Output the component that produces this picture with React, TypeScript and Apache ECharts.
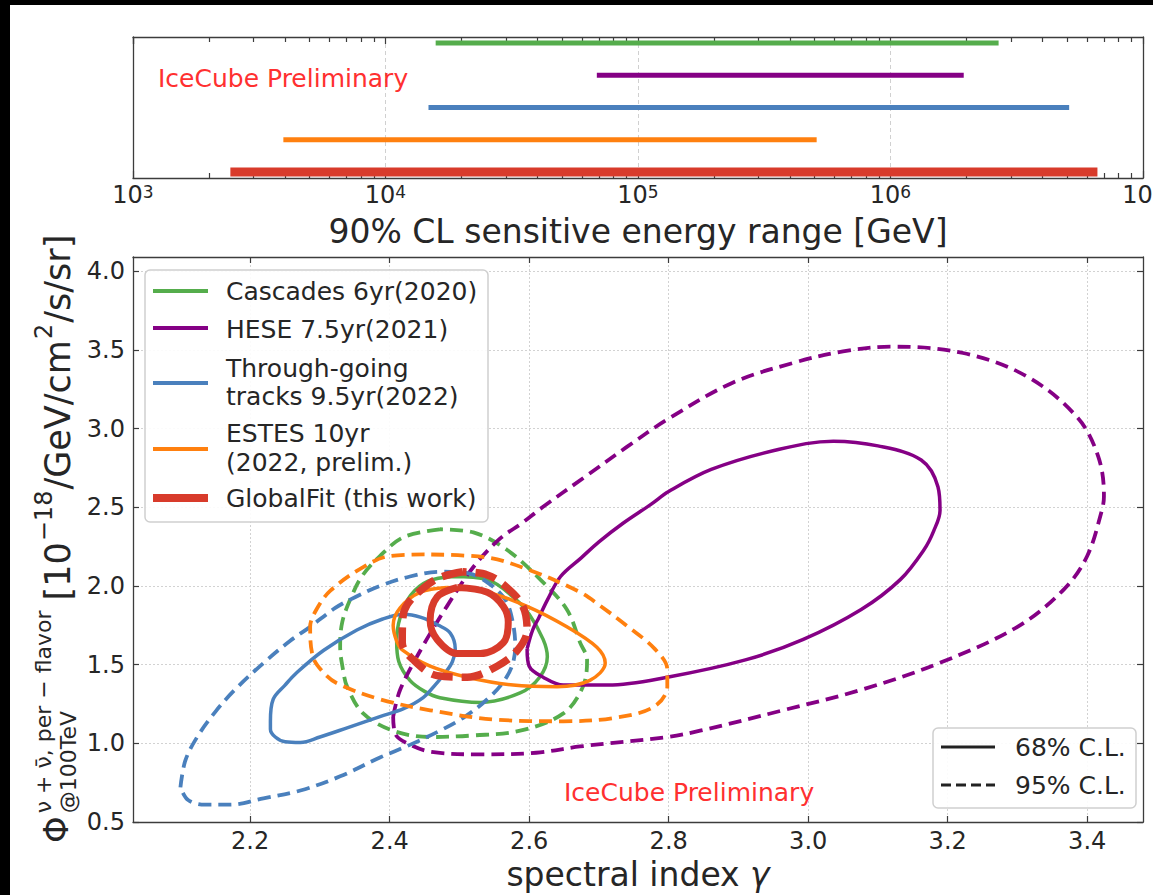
import React, { useEffect, useRef } from 'react';
import * as echarts from 'echarts';

const FONT = '"DejaVu Sans", "Noto Sans", sans-serif';
const TEXT = '#262626';
const AXIS = '#3c3c3c';

const GREEN = '#55ad4c';
const PURPLE = '#850085';
const BLUE = '#4a80bd';
const ORANGE = '#ff800f';
const RED = '#d83b2b';

// ---------- top panel: 90% CL sensitive energy ranges [GeV] ----------
const rangeNames = ['GlobalFit', 'ESTES', 'Tracks', 'HESE', 'Cascades'];
const rangeRows = [0, 1, 2, 3, 4];
const rangeLow = [2430, 3940, 14800, 68700, 15800];
const rangeHigh = [6600000, 510000, 5100000, 1950000, 2680000];
const rangeColors = [RED, ORANGE, BLUE, PURPLE, GREEN];
const rangeWidths = [9, 5, 5, 5, 5];
const energyMinorMultipliers = [2, 3, 4, 5, 6, 7, 8, 9];
const energyDecades = [3, 4, 5, 6];

// ---------- bottom panel: contours (spectral index, flux) ----------
const gammaTicks = [2.2, 2.4, 2.6, 2.8, 3.0, 3.2, 3.4];
const fluxTicks = [0.5, 1.0, 1.5, 2.0, 2.5, 3.0, 3.5, 4.0];

const cascades95 = [
  [2.472, 2.36], [2.420, 2.31], [2.386, 2.19], [2.360, 2.06], [2.345, 1.93], [2.332, 1.77],
  [2.329, 1.61], [2.333, 1.47], [2.339, 1.36], [2.362, 1.19], [2.405, 1.08], [2.458, 1.04],
  [2.520, 1.05], [2.587, 1.08], [2.649, 1.19], [2.677, 1.36], [2.683, 1.53], [2.673, 1.64],
  [2.654, 1.85], [2.616, 2.04], [2.568, 2.23], [2.520, 2.34], [2.472, 2.36],
];
const cascades68 = [
  [2.491, 2.06], [2.455, 2.03], [2.430, 1.94], [2.415, 1.80], [2.410, 1.65], [2.413, 1.52],
  [2.429, 1.40], [2.450, 1.33], [2.472, 1.29], [2.530, 1.26], [2.587, 1.32], [2.615, 1.42],
  [2.626, 1.55], [2.620, 1.66], [2.600, 1.82], [2.577, 1.93], [2.540, 2.04], [2.491, 2.06],
];
const hese68 = [
  [2.597, 1.60], [2.605, 1.72], [2.614, 1.80], [2.626, 1.91], [2.645, 2.06], [2.675, 2.18],
  [2.700, 2.28], [2.735, 2.40], [2.775, 2.52], [2.800, 2.60], [2.861, 2.74], [2.951, 2.86],
  [3.036, 2.92], [3.100, 2.89], [3.162, 2.80], [3.186, 2.63], [3.189, 2.48], [3.180, 2.35],
  [3.166, 2.23], [3.132, 2.04], [3.076, 1.85], [2.993, 1.66], [2.910, 1.53], [2.798, 1.42],
  [2.713, 1.37], [2.649, 1.37], [2.620, 1.42], [2.600, 1.49], [2.597, 1.60],
];
const hese95 = [
  [2.405, 1.17], [2.415, 1.34], [2.444, 1.59], [2.482, 1.87], [2.520, 2.12], [2.558, 2.30],
  [2.590, 2.40], [2.619, 2.50], [2.679, 2.69], [2.739, 2.88], [2.799, 3.06], [2.891, 3.29],
  [2.981, 3.42], [3.050, 3.49], [3.120, 3.52], [3.222, 3.48], [3.314, 3.33], [3.386, 3.07],
  [3.416, 2.82], [3.424, 2.57], [3.421, 2.48], [3.400, 2.19], [3.367, 1.98], [3.300, 1.74],
  [3.188, 1.51], [3.076, 1.34], [2.964, 1.21], [2.845, 1.08], [2.798, 1.04], [2.673, 0.98],
  [2.610, 0.94], [2.530, 0.93], [2.460, 0.945], [2.425, 1.00], [2.408, 1.06], [2.405, 1.17],
];
const tracks68 = [
  [2.229, 1.14], [2.233, 1.28], [2.250, 1.37], [2.267, 1.45], [2.305, 1.59], [2.353, 1.72],
  [2.390, 1.79], [2.420, 1.82], [2.445, 1.80], [2.470, 1.75], [2.487, 1.70], [2.494, 1.60],
  [2.490, 1.52], [2.480, 1.45], [2.465, 1.37], [2.448, 1.29], [2.420, 1.22], [2.386, 1.17],
  [2.340, 1.10], [2.300, 1.04], [2.272, 1.005], [2.250, 1.01], [2.236, 1.04], [2.229, 1.09],
  [2.229, 1.14],
];
const tracks95 = [
  [2.100, 0.72], [2.107, 0.89], [2.124, 1.04], [2.150, 1.20], [2.178, 1.34], [2.219, 1.51],
  [2.257, 1.65], [2.286, 1.74], [2.322, 1.86], [2.351, 1.93], [2.386, 2.00], [2.429, 2.06],
  [2.472, 2.09], [2.513, 2.08], [2.544, 2.01], [2.566, 1.91], [2.576, 1.78], [2.580, 1.62],
  [2.576, 1.50], [2.563, 1.39], [2.540, 1.28], [2.508, 1.17], [2.472, 1.08], [2.429, 0.99],
  [2.386, 0.91], [2.329, 0.79], [2.272, 0.70], [2.219, 0.65], [2.171, 0.61], [2.135, 0.61],
  [2.111, 0.64], [2.100, 0.72],
];
const estes68 = [
  [2.482, 1.99], [2.444, 1.96], [2.415, 1.86], [2.405, 1.75], [2.410, 1.65], [2.419, 1.59],
  [2.458, 1.49], [2.511, 1.42], [2.577, 1.37], [2.640, 1.36], [2.687, 1.40], [2.709, 1.51],
  [2.697, 1.61], [2.654, 1.74], [2.597, 1.87], [2.540, 1.96], [2.482, 1.99],
];
const estes95 = [
  [2.450, 2.20], [2.400, 2.19], [2.362, 2.12], [2.315, 1.97], [2.295, 1.85], [2.286, 1.74],
  [2.290, 1.55], [2.305, 1.45], [2.325, 1.38], [2.386, 1.28], [2.458, 1.21], [2.554, 1.15],
  [2.649, 1.14], [2.720, 1.16], [2.778, 1.23], [2.798, 1.36], [2.798, 1.47], [2.780, 1.60],
  [2.742, 1.74], [2.700, 1.88], [2.673, 1.96], [2.601, 2.10], [2.540, 2.18], [2.450, 2.20],
];
const global68 = [
  [2.497, 1.99], [2.468, 1.93], [2.458, 1.78], [2.468, 1.66], [2.497, 1.57], [2.530, 1.57],
  [2.563, 1.64], [2.570, 1.77], [2.563, 1.87], [2.540, 1.96], [2.497, 1.99],
];
const global95 = [
  [2.505, 2.09], [2.470, 2.05], [2.444, 1.97], [2.425, 1.88], [2.419, 1.80], [2.418, 1.64],
  [2.434, 1.53], [2.468, 1.43], [2.511, 1.42], [2.554, 1.49], [2.583, 1.59], [2.597, 1.72],
  [2.591, 1.87], [2.568, 1.99], [2.540, 2.07], [2.505, 2.09],
];

const legendLabels = [
  ['Cascades 6yr(2020)'],
  ['HESE 7.5yr(2021)'],
  ['Through-going', 'tracks 9.5yr(2022)'],
  ['ESTES 10yr', '(2022, prelim.)'],
  ['GlobalFit (this work)'],
];
const legendColors = [GREEN, PURPLE, BLUE, ORANGE, RED];
const clLabels = ['68% C.L.', '95% C.L.'];

let measureCtx: CanvasRenderingContext2D | null = null;
function measure(t: string, size: number): number {
  if (!measureCtx) measureCtx = document.createElement('canvas').getContext('2d');
  if (!measureCtx) return t.length * size * 0.6;
  measureCtx.font = `${size}px "DejaVu Sans"`;
  return measureCtx.measureText(t).width;
}

function txt(t: string, x: number, y: number, size: number, fill = TEXT, align = 'left', extraStyle: any = {}) {
  return {
    type: 'text', x, y, z: 100,
    style: {
      text: t, fontSize: size, fontFamily: FONT, fill,
      align, verticalAlign: 'middle', textAlign: align, textVerticalAlign: 'middle',
      ...extraStyle,
    },
  };
}

function yTitle() {
  const F = 35, S = 22, SS = 24;
  const kids: any[] = [];
  const add = (t: string, size: number, x: number, y: number) => kids.push(txt(t, x, y, size));
  let p = 0;
  add('Φ', 34, p, -2);
  p += measure('Φ', 34) + 3;
  const sup = 'ν + ν\u0304, per − flavor';
  const sub = '@100TeV';
  add(sup, S, p, -15);
  add(sub, S, p, 10);
  p += Math.max(measure(sup, S), measure(sub, S)) + 10;
  add('[10', F, p, 0); p += measure('[10', F) + 1;
  add('−18', SS, p, -14); p += measure('−18', SS) + 1;
  add('/GeV/cm', F, p, 0); p += measure('/GeV/cm', F) + 1;
  add('2', SS, p, -14); p += measure('2', SS) + 1;
  add('/s/sr]', F, p, 0);
  return { type: 'group', x: 58, y: 843, rotation: Math.PI / 2, children: kids };
}

function buildOption(): any {
  const minorLog: number[] = [];
  energyDecades.forEach((d) => energyMinorMultipliers.forEach((m) => minorLog.push(Math.log10(m * Math.pow(10, d)))));

  const line = { show: true, onZero: false, lineStyle: { color: AXIS, width: 1.3 } };
  const noLine = { show: false, onZero: false };
  const tick = (len: number, custom?: number[]) => ({
    show: true, inside: true, length: len, lineStyle: { color: AXIS, width: 1.2 },
    ...(custom ? { customValues: custom } : {}),
  });
  const noLabel = { show: false };
  const noSplit = { show: false };
  const grid = { color: '#d2d2d2', width: 1, type: [2, 2] };

  const xAxis = [
    {
      gridIndex: 0, type: 'log', logBase: 10, min: 1e3, max: 1e7, position: 'bottom',
      axisLine: line, axisTick: tick(7),
      axisLabel: {
        show: true, margin: 5,
        formatter: (v: number) => `{b|10}{e|${Math.round(Math.log10(v))}}`,
        rich: {
          b: { fontSize: 24, fontFamily: FONT, color: TEXT },
          e: { fontSize: 17, fontFamily: FONT, color: TEXT, verticalAlign: 'top' },
        },
      },
      splitLine: { show: true, lineStyle: { color: '#d0d0d0', width: 1, type: [4, 3] } },
    },
    {
      gridIndex: 0, type: 'log', logBase: 10, min: 1e3, max: 1e7, position: 'top',
      axisLine: line, axisTick: tick(7), axisLabel: noLabel, splitLine: noSplit,
    },
    {
      gridIndex: 0, type: 'value', min: 3, max: 7, position: 'bottom',
      axisLine: noLine, axisTick: tick(5, minorLog), axisLabel: noLabel, splitLine: noSplit,
    },
    {
      gridIndex: 0, type: 'value', min: 3, max: 7, position: 'top',
      axisLine: noLine, axisTick: tick(5, minorLog), axisLabel: noLabel, splitLine: noSplit,
    },
    {
      gridIndex: 1, type: 'value', min: 2.032, max: 3.48, position: 'bottom',
      axisLine: line, axisTick: tick(6, gammaTicks),
      axisLabel: {
        show: true, margin: 7, customValues: gammaTicks, fontSize: 24, fontFamily: FONT, color: TEXT,
        formatter: (v: number) => v.toFixed(1),
      },
      splitLine: { show: true, lineStyle: grid },
    },
    {
      gridIndex: 1, type: 'value', min: 2.032, max: 3.48, position: 'top',
      axisLine: line, axisTick: tick(6, gammaTicks), axisLabel: noLabel, splitLine: noSplit,
    },
  ];

  const yAxis = [
    {
      gridIndex: 0, type: 'value', min: -0.186, max: 4.186, position: 'left',
      axisLine: line, axisTick: { show: false }, axisLabel: noLabel, splitLine: noSplit,
    },
    {
      gridIndex: 0, type: 'value', min: -0.186, max: 4.186, position: 'right',
      axisLine: line, axisTick: { show: false }, axisLabel: noLabel, splitLine: noSplit,
    },
    {
      gridIndex: 1, type: 'value', min: 0.5, max: 4.09, position: 'left',
      axisLine: line, axisTick: tick(6, fluxTicks),
      axisLabel: {
        show: true, margin: 8, customValues: fluxTicks, fontSize: 24, fontFamily: FONT, color: TEXT,
        formatter: (v: number) => v.toFixed(1),
      },
      splitLine: { show: true, lineStyle: grid },
    },
    {
      gridIndex: 1, type: 'value', min: 0.5, max: 4.09, position: 'right',
      axisLine: line, axisTick: tick(6, fluxTicks), axisLabel: noLabel, splitLine: noSplit,
    },
  ];

  const series: any[] = [];
  rangeRows.forEach((row, i) => {
    series.push({
      name: rangeNames[i], type: 'line', xAxisIndex: 0, yAxisIndex: 0,
      data: [[rangeLow[i], row], [rangeHigh[i], row]],
      symbol: 'none', silent: true,
      lineStyle: { color: rangeColors[i], width: rangeWidths[i], cap: 'butt' },
    });
  });

  const contours = [
    { d: cascades95, c: GREEN, w: 3.8, dash: true },
    { d: cascades68, c: GREEN, w: 3.5, dash: false },
    { d: hese95, c: PURPLE, w: 3.8, dash: true },
    { d: hese68, c: PURPLE, w: 3.5, dash: false },
    { d: tracks95, c: BLUE, w: 3.8, dash: true },
    { d: tracks68, c: BLUE, w: 3.5, dash: false },
    { d: estes95, c: ORANGE, w: 3.8, dash: true },
    { d: estes68, c: ORANGE, w: 3.5, dash: false },
    { d: global95, c: RED, w: 7.5, dash: true },
    { d: global68, c: RED, w: 7, dash: false },
  ];
  contours.forEach((k, i) => {
    series.push({
      type: 'line', xAxisIndex: 4, yAxisIndex: 2, data: k.d, symbol: 'none', silent: true,
      smooth: 0.35, z: 3 + i * 0.01,
      lineStyle: {
        color: k.c, width: k.w, cap: 'butt', join: 'round',
        type: k.dash ? (k.w > 5 ? [21, 9] : [13, 7]) : 'solid',
      },
    });
  });

  const graphic: any[] = [];
  graphic.push(txt('IceCube Preliminary', 158, 78, 25, '#ff3030'));
  graphic.push(txt('90% CL sensitive energy range [GeV]', 638, 231, 33, TEXT, 'center'));
  graphic.push(txt('spectral index {g|γ}', 638, 874, 33, TEXT, 'center', {
    rich: { g: { fontSize: 33, fontFamily: FONT, fontStyle: 'italic', fill: TEXT } },
  }));
  graphic.push(txt('IceCube Preliminary', 564, 792, 25, '#ff3030'));
  graphic.push(yTitle());

  graphic.push({
    type: 'rect', z: 99, shape: { x: 145, y: 270, width: 343, height: 252, r: 5 },
    style: { fill: 'rgba(255,255,255,0.9)', stroke: '#cfcfcf', lineWidth: 1.5 },
  });
  const lineYs = [291, 328, 383, 449, 498];
  const textYs = [[291], [329], [368, 396], [433, 462], [498]];
  legendLabels.forEach((lines, i) => {
    graphic.push({
      type: 'line', z: 100, shape: { x1: 153, y1: lineYs[i], x2: 208, y2: lineYs[i] },
      style: { stroke: legendColors[i], lineWidth: i === 4 ? 8 : 4 },
    });
    lines.forEach((l, j) => graphic.push(txt(l, 226, textYs[i][j], 25)));
  });

  graphic.push({
    type: 'rect', z: 99, shape: { x: 933, y: 728, width: 203, height: 80, r: 5 },
    style: { fill: 'rgba(255,255,255,0.9)', stroke: '#cfcfcf', lineWidth: 1.5 },
  });
  graphic.push({
    type: 'line', z: 100, shape: { x1: 941, y1: 747, x2: 995, y2: 747 },
    style: { stroke: '#222', lineWidth: 3 },
  });
  graphic.push({
    type: 'line', z: 100, shape: { x1: 941, y1: 785, x2: 995, y2: 785 },
    style: { stroke: '#222', lineWidth: 3, lineDash: [10, 5] },
  });
  graphic.push(txt(clLabels[0], 1015, 747, 25));
  graphic.push(txt(clLabels[1], 1015, 785, 25));

  return {
    animation: false,
    backgroundColor: 'transparent',
    textStyle: { fontFamily: FONT },
    grid: [
      { left: 133, top: 37, width: 1010, height: 141, containLabel: false, outerBoundsMode: 'none' },
      { left: 133, top: 257, width: 1010, height: 565, containLabel: false, outerBoundsMode: 'none' },
    ],
    xAxis, yAxis, series, graphic,
  };
}

export default function App() {
  const ref = useRef<HTMLDivElement>(null);
  useEffect(() => {
    document.body.style.margin = '0';
    if (!ref.current) return;
    const chart = echarts.init(ref.current, null, { renderer: 'svg' });
    chart.setOption(buildOption());
    return () => chart.dispose();
  }, []);
  return (
    <div style={{ position: 'relative', width: 1153, height: 895, background: '#000', overflow: 'hidden' }}>
      <div style={{ position: 'absolute', left: 10, top: 5, width: 1143, height: 890, background: '#fff' }} />
      <div ref={ref} style={{ position: 'absolute', left: 0, top: 0, width: 1153, height: 895 }} />
    </div>
  );
}
